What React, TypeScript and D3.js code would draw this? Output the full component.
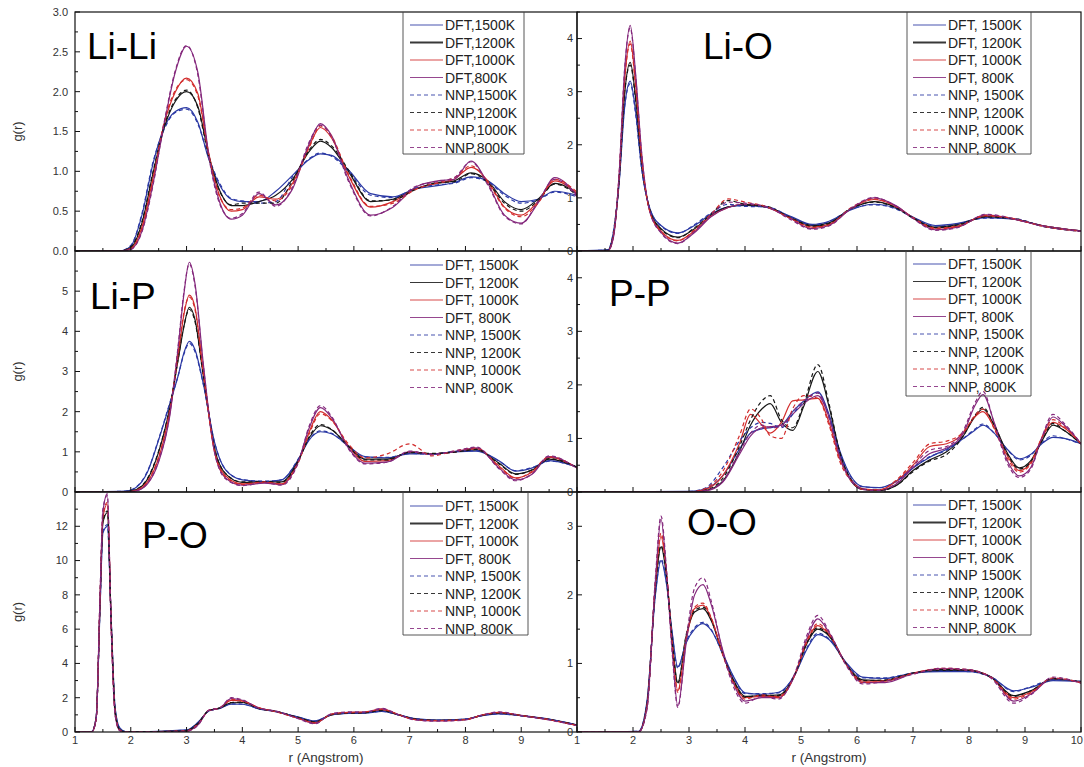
import React from "react";
import * as d3 from "d3";

// ---------- data ----------
const temps = ["1500K", "1200K", "1000K", "800K"];
const tempColors = ["#2a38a4", "#161616", "#d22c2c", "#84287c"];

// Li-Li
const liLiR = [1, 1.8, 2.0, 2.2, 2.4, 2.6, 2.8, 3.0, 3.2, 3.4, 3.6, 3.8, 4.0, 4.3, 4.6, 4.9, 5.2, 5.4, 5.6, 5.9, 6.3, 6.7, 7.1, 7.5, 7.8, 8.1, 8.4, 8.7, 9.0, 9.3, 9.6, 10];
const liLiDft1500 = [0, 0, 0.06, 0.45, 1.1, 1.55, 1.75, 1.8, 1.62, 1.15, 0.82, 0.65, 0.62, 0.62, 0.75, 0.95, 1.15, 1.22, 1.2, 1.02, 0.72, 0.68, 0.78, 0.82, 0.86, 0.93, 0.88, 0.72, 0.62, 0.65, 0.75, 0.7];
const liLiDft1200 = [0, 0, 0.04, 0.35, 0.98, 1.55, 1.88, 2.0, 1.82, 1.2, 0.75, 0.57, 0.57, 0.62, 0.7, 0.9, 1.25, 1.38, 1.3, 1.0, 0.62, 0.65, 0.78, 0.85, 0.88, 0.98, 0.88, 0.62, 0.52, 0.65, 0.85, 0.72];
const liLiDft1000 = [0, 0, 0.03, 0.3, 0.92, 1.6, 2.0, 2.17, 1.98, 1.22, 0.68, 0.5, 0.52, 0.68, 0.65, 0.85, 1.32, 1.55, 1.42, 0.95, 0.55, 0.62, 0.78, 0.85, 0.9, 1.05, 0.88, 0.55, 0.45, 0.62, 0.88, 0.72];
const liLiDft800 = [0, 0, 0.02, 0.25, 0.85, 1.6, 2.25, 2.57, 2.25, 1.2, 0.6, 0.4, 0.45, 0.72, 0.58, 0.78, 1.35, 1.6, 1.45, 0.9, 0.45, 0.55, 0.8, 0.88, 0.9, 1.13, 0.85, 0.45, 0.35, 0.6, 0.92, 0.7];
const liLiNnp1500 = [0, 0, 0.07, 0.47, 1.12, 1.53, 1.74, 1.78, 1.6, 1.17, 0.84, 0.66, 0.63, 0.6, 0.62, 0.93, 1.16, 1.23, 1.19, 1.0, 0.7, 0.67, 0.79, 0.83, 0.85, 0.92, 0.87, 0.7, 0.6, 0.64, 0.74, 0.68];
const liLiNnp1200 = [0, 0, 0.05, 0.37, 1.0, 1.57, 1.9, 2.02, 1.8, 1.18, 0.74, 0.58, 0.6, 0.6, 0.6, 0.88, 1.27, 1.4, 1.32, 1.02, 0.63, 0.64, 0.77, 0.86, 0.87, 0.97, 0.86, 0.6, 0.5, 0.63, 0.84, 0.7];
const liLiNnp1000 = [0, 0, 0.03, 0.28, 0.9, 1.62, 2.02, 2.15, 1.95, 1.2, 0.67, 0.52, 0.54, 0.7, 0.63, 0.83, 1.3, 1.57, 1.44, 0.97, 0.56, 0.6, 0.77, 0.86, 0.92, 1.07, 0.86, 0.54, 0.43, 0.6, 0.9, 0.74];
const liLiNnp800 = [0, 0, 0.02, 0.24, 0.83, 1.62, 2.27, 2.58, 2.22, 1.18, 0.58, 0.41, 0.47, 0.74, 0.56, 0.8, 1.37, 1.58, 1.43, 0.88, 0.44, 0.56, 0.81, 0.87, 0.92, 1.12, 0.83, 0.44, 0.34, 0.62, 0.9, 0.68];

// Li-O
const liOR = [1, 1.55, 1.65, 1.75, 1.85, 1.95, 2.05, 2.15, 2.3, 2.5, 2.8, 3.1, 3.4, 3.7, 4.0, 4.4, 4.8, 5.2, 5.5, 5.9, 6.3, 6.7, 7.0, 7.4, 7.8, 8.3, 8.8, 9.3, 10];
const liODft1500 = [0, 0.02, 0.35, 1.25, 2.7, 3.2, 2.6, 1.6, 0.8, 0.48, 0.34, 0.48, 0.7, 0.83, 0.86, 0.82, 0.66, 0.5, 0.56, 0.78, 0.88, 0.8, 0.64, 0.48, 0.52, 0.63, 0.6, 0.48, 0.38];
const liODft1200 = [0, 0.01, 0.3, 1.3, 2.95, 3.55, 2.85, 1.7, 0.78, 0.42, 0.26, 0.42, 0.68, 0.83, 0.87, 0.82, 0.64, 0.48, 0.53, 0.8, 0.93, 0.82, 0.63, 0.45, 0.5, 0.65, 0.6, 0.48, 0.38];
const liODft1000 = [0, 0, 0.28, 1.35, 3.2, 3.95, 3.1, 1.8, 0.75, 0.38, 0.2, 0.38, 0.66, 0.82, 0.88, 0.82, 0.63, 0.45, 0.5, 0.8, 0.97, 0.84, 0.63, 0.43, 0.47, 0.66, 0.6, 0.48, 0.38];
const liODft800 = [0, 0, 0.25, 1.4, 3.4, 4.25, 3.3, 1.9, 0.75, 0.35, 0.15, 0.35, 0.65, 0.82, 0.88, 0.82, 0.62, 0.42, 0.48, 0.8, 1.0, 0.85, 0.62, 0.4, 0.45, 0.68, 0.6, 0.48, 0.38];
const liONnp1500 = [0, 0.02, 0.37, 1.28, 2.72, 3.15, 2.55, 1.58, 0.8, 0.47, 0.33, 0.5, 0.72, 0.88, 0.84, 0.83, 0.65, 0.49, 0.55, 0.79, 0.87, 0.79, 0.63, 0.47, 0.51, 0.62, 0.61, 0.47, 0.37];
const liONnp1200 = [0, 0.01, 0.32, 1.32, 2.98, 3.5, 2.8, 1.68, 0.77, 0.41, 0.25, 0.44, 0.7, 0.95, 0.88, 0.84, 0.63, 0.47, 0.52, 0.81, 0.92, 0.81, 0.62, 0.44, 0.49, 0.64, 0.61, 0.47, 0.37];
const liONnp1000 = [0, 0, 0.3, 1.38, 3.22, 3.9, 3.05, 1.78, 0.74, 0.37, 0.19, 0.4, 0.7, 0.98, 0.92, 0.83, 0.62, 0.44, 0.49, 0.82, 0.98, 0.83, 0.62, 0.42, 0.46, 0.67, 0.61, 0.47, 0.37];
const liONnp800 = [0, 0, 0.27, 1.42, 3.42, 4.2, 3.25, 1.88, 0.74, 0.34, 0.14, 0.37, 0.68, 0.92, 0.9, 0.83, 0.6, 0.41, 0.47, 0.81, 1.01, 0.84, 0.61, 0.39, 0.44, 0.69, 0.61, 0.47, 0.37];

// Li-P
const liPR = [1, 1.9, 2.1, 2.3, 2.5, 2.7, 2.85, 2.95, 3.05, 3.15, 3.3, 3.5, 3.7, 4.0, 4.4, 4.7, 5.0, 5.2, 5.4, 5.6, 5.9, 6.2, 6.6, 7.0, 7.4, 7.8, 8.2, 8.6, 8.9, 9.2, 9.5, 10];
const liPDft1500 = [0, 0.02, 0.12, 0.5, 1.3, 2.2, 2.9, 3.45, 3.75, 3.55, 2.7, 1.25, 0.55, 0.3, 0.26, 0.3, 0.8, 1.3, 1.5, 1.45, 1.15, 0.88, 0.85, 0.95, 0.95, 1.0, 1.02, 0.78, 0.52, 0.6, 0.78, 0.62];
const liPDft1200 = [0, 0.01, 0.06, 0.32, 1.0, 2.1, 3.3, 4.1, 4.6, 4.3, 2.9, 1.1, 0.45, 0.24, 0.25, 0.25, 0.78, 1.35, 1.65, 1.55, 1.15, 0.82, 0.82, 0.98, 0.95, 1.0, 1.05, 0.72, 0.45, 0.55, 0.82, 0.62];
const liPDft1000 = [0, 0, 0.04, 0.25, 0.85, 2.0, 3.4, 4.4, 4.9, 4.6, 3.0, 1.05, 0.4, 0.2, 0.24, 0.2, 0.75, 1.5, 2.0, 1.8, 1.15, 0.76, 0.78, 1.0, 0.95, 1.0, 1.08, 0.65, 0.35, 0.5, 0.86, 0.6];
const liPDft800 = [0, 0, 0.03, 0.2, 0.75, 1.9, 3.6, 4.9, 5.72, 5.2, 3.2, 1.0, 0.35, 0.17, 0.22, 0.18, 0.75, 1.6, 2.1, 1.85, 1.1, 0.72, 0.75, 1.0, 0.95, 1.0, 1.1, 0.6, 0.3, 0.45, 0.88, 0.6];
const liPNnp1500 = [0, 0.02, 0.13, 0.52, 1.32, 2.22, 2.9, 3.42, 3.7, 3.5, 2.68, 1.24, 0.56, 0.31, 0.27, 0.3, 0.82, 1.32, 1.52, 1.46, 1.14, 0.87, 0.86, 0.96, 0.94, 1.01, 1.03, 0.77, 0.53, 0.61, 0.77, 0.62];
const liPNnp1200 = [0, 0.01, 0.07, 0.34, 1.02, 2.12, 3.32, 4.12, 4.55, 4.25, 2.88, 1.1, 0.46, 0.25, 0.26, 0.24, 0.76, 1.38, 1.68, 1.56, 1.14, 0.8, 0.8, 0.99, 0.96, 0.99, 1.06, 0.7, 0.44, 0.56, 0.83, 0.62];
const liPNnp1000 = [0, 0, 0.05, 0.27, 0.88, 2.05, 3.45, 4.45, 4.85, 4.55, 2.95, 1.02, 0.38, 0.19, 0.25, 0.19, 0.72, 1.45, 1.95, 1.78, 1.2, 0.85, 0.95, 1.2, 0.9, 1.02, 1.1, 0.63, 0.34, 0.52, 0.88, 0.6];
const liPNnp800 = [0, 0, 0.03, 0.22, 0.78, 1.95, 3.65, 4.95, 5.68, 5.15, 3.15, 1.0, 0.33, 0.16, 0.23, 0.17, 0.72, 1.65, 2.15, 1.88, 1.08, 0.7, 0.74, 1.02, 0.93, 1.02, 1.12, 0.58, 0.28, 0.46, 0.9, 0.58];

// P-P
const pPR = [1, 3.0, 3.3, 3.6, 3.9, 4.1, 4.3, 4.45, 4.65, 4.85, 5.05, 5.3, 5.5, 5.7, 5.9, 6.1, 6.4, 6.7, 7.0, 7.3, 7.6, 7.9, 8.1, 8.25, 8.45, 8.7, 8.9, 9.1, 9.3, 9.5, 9.7, 10];
const pPDft1500 = [0, 0.01, 0.06, 0.3, 0.8, 1.1, 1.18, 1.2, 1.25, 1.5, 1.7, 1.87, 1.45, 0.75, 0.28, 0.1, 0.08, 0.2, 0.45, 0.65, 0.8, 1.0, 1.15, 1.25, 1.1, 0.78, 0.62, 0.7, 0.9, 1.02, 1.0, 0.9];
const pPDft1200 = [0, 0, 0.03, 0.2, 0.75, 1.25, 1.55, 1.65, 1.3, 1.15, 1.6, 2.25, 1.6, 0.7, 0.2, 0.05, 0.03, 0.12, 0.4, 0.6, 0.75, 1.05, 1.4, 1.55, 1.25, 0.7, 0.45, 0.58, 0.95, 1.25, 1.15, 0.9];
const pPDft1000 = [0, 0, 0.05, 0.3, 0.9, 1.45, 1.25, 1.1, 1.3, 1.7, 1.72, 1.75, 1.3, 0.6, 0.22, 0.06, 0.04, 0.2, 0.5, 0.85, 0.9, 1.1, 1.4, 1.5, 1.2, 0.65, 0.4, 0.55, 1.0, 1.3, 1.2, 0.9];
const pPDft800 = [0, 0, 0.02, 0.18, 0.7, 1.05, 1.2, 1.22, 1.25, 1.45, 1.65, 1.8, 1.4, 0.65, 0.22, 0.06, 0.03, 0.15, 0.45, 0.72, 0.82, 1.1, 1.6, 1.82, 1.3, 0.55, 0.3, 0.45, 1.0, 1.4, 1.25, 0.9];
const pPNnp1500 = [0, 0.01, 0.08, 0.45, 0.95, 1.2, 1.3, 1.28, 1.2, 1.45, 1.68, 1.85, 1.42, 0.72, 0.27, 0.1, 0.08, 0.2, 0.45, 0.66, 0.78, 1.0, 1.17, 1.27, 1.1, 0.77, 0.6, 0.68, 0.92, 1.05, 1.0, 0.9];
const pPNnp1200 = [0, 0, 0.04, 0.25, 0.85, 1.35, 1.7, 1.8, 1.35, 1.2, 1.65, 2.38, 1.65, 0.72, 0.22, 0.05, 0.03, 0.12, 0.38, 0.58, 0.7, 1.05, 1.42, 1.58, 1.25, 0.68, 0.43, 0.56, 0.95, 1.28, 1.15, 0.9];
const pPNnp1000 = [0, 0, 0.07, 0.38, 1.05, 1.55, 1.35, 1.05, 1.0, 1.55, 1.8, 1.75, 1.25, 0.55, 0.2, 0.05, 0.04, 0.22, 0.55, 0.9, 0.95, 1.12, 1.42, 1.55, 1.18, 0.6, 0.37, 0.52, 1.02, 1.35, 1.22, 0.9];
const pPNnp800 = [0, 0, 0.03, 0.2, 0.75, 1.1, 1.25, 1.2, 1.22, 1.5, 1.7, 1.85, 1.38, 0.62, 0.2, 0.05, 0.03, 0.16, 0.48, 0.78, 0.85, 1.15, 1.65, 1.88, 1.28, 0.5, 0.27, 0.42, 1.02, 1.45, 1.28, 0.9];

// P-O
const pOR = [1, 1.3, 1.38, 1.45, 1.5, 1.58, 1.65, 1.72, 1.8, 1.9, 2.0, 3.0, 3.2, 3.4, 3.6, 3.8, 4.0, 4.3, 4.6, 5.0, 5.3, 5.6, 5.9, 6.2, 6.5, 6.8, 7.1, 7.5, 8.0, 8.3, 8.6, 9.0, 9.5, 10];
const pODft1500 = [0, 0.02, 0.9, 7.3, 11.6, 12.0, 6.5, 1.4, 0.25, 0.02, 0, 0.12, 0.55, 1.22, 1.38, 1.62, 1.62, 1.35, 1.18, 0.88, 0.65, 1.0, 1.08, 1.1, 1.2, 1.0, 0.78, 0.7, 0.75, 0.95, 1.05, 0.95, 0.75, 0.42];
const pODft1200 = [0, 0, 0.85, 7.6, 12.2, 12.8, 6.3, 1.2, 0.15, 0.01, 0, 0.08, 0.5, 1.25, 1.4, 1.7, 1.72, 1.38, 1.2, 0.85, 0.6, 1.0, 1.1, 1.12, 1.25, 1.0, 0.76, 0.68, 0.74, 0.97, 1.1, 0.95, 0.74, 0.4];
const pODft1000 = [0, 0, 0.8, 7.8, 12.5, 13.3, 6.2, 1.1, 0.12, 0, 0, 0.06, 0.45, 1.25, 1.4, 1.85, 1.8, 1.4, 1.2, 0.82, 0.55, 1.02, 1.12, 1.15, 1.3, 1.0, 0.74, 0.67, 0.73, 0.98, 1.12, 0.95, 0.73, 0.39];
const pODft800 = [0, 0, 0.8, 8.0, 12.8, 13.9, 6.0, 1.0, 0.1, 0, 0, 0.05, 0.4, 1.25, 1.4, 1.95, 1.85, 1.4, 1.2, 0.8, 0.5, 1.05, 1.15, 1.15, 1.35, 1.0, 0.72, 0.65, 0.72, 0.98, 1.15, 0.95, 0.72, 0.38];
const pONnp1500 = [0, 0.02, 0.88, 7.4, 11.7, 12.1, 6.45, 1.35, 0.23, 0.02, 0, 0.11, 0.53, 1.23, 1.39, 1.64, 1.63, 1.34, 1.19, 0.87, 0.63, 1.01, 1.09, 1.11, 1.21, 1.0, 0.77, 0.69, 0.76, 0.96, 1.06, 0.94, 0.74, 0.41];
const pONnp1200 = [0, 0, 0.82, 7.7, 12.3, 12.9, 6.25, 1.15, 0.14, 0.01, 0, 0.07, 0.48, 1.26, 1.41, 1.72, 1.74, 1.36, 1.21, 0.84, 0.58, 1.02, 1.11, 1.13, 1.27, 1.01, 0.75, 0.67, 0.73, 0.98, 1.11, 0.96, 0.73, 0.4];
const pONnp1000 = [0, 0, 0.78, 7.9, 12.6, 13.4, 6.1, 1.05, 0.1, 0, 0, 0.05, 0.42, 1.27, 1.42, 1.9, 1.82, 1.42, 1.18, 0.8, 0.53, 1.04, 1.14, 1.17, 1.33, 1.02, 0.72, 0.66, 0.72, 0.99, 1.14, 0.96, 0.72, 0.38];
const pONnp800 = [0, 0, 0.75, 8.2, 13.0, 13.8, 5.8, 0.95, 0.08, 0, 0, 0.04, 0.38, 1.28, 1.42, 2.0, 1.88, 1.38, 1.22, 0.78, 0.48, 1.07, 1.17, 1.17, 1.38, 1.02, 0.7, 0.63, 0.7, 1.0, 1.17, 0.97, 0.7, 0.37];

// O-O
const oOR = [1, 2.1, 2.25, 2.4, 2.5, 2.6, 2.7, 2.8, 2.95, 3.1, 3.25, 3.4, 3.6, 3.8, 4.0, 4.3, 4.6, 4.9, 5.1, 5.3, 5.5, 5.8, 6.1, 6.5, 7.0, 7.5, 8.0, 8.4, 8.8, 9.1, 9.5, 10];
const oODft1500 = [0, 0.01, 0.45, 2.0, 2.5, 2.15, 1.45, 0.95, 1.3, 1.5, 1.58, 1.48, 1.15, 0.8, 0.57, 0.55, 0.58, 0.85, 1.2, 1.42, 1.35, 1.02, 0.8, 0.78, 0.86, 0.88, 0.88, 0.8, 0.6, 0.65, 0.75, 0.74];
const oODft1200 = [0, 0, 0.4, 2.1, 2.7, 2.25, 1.35, 0.72, 1.4, 1.75, 1.8, 1.62, 1.15, 0.75, 0.52, 0.53, 0.54, 0.85, 1.28, 1.5, 1.4, 1.0, 0.76, 0.75, 0.86, 0.9, 0.9, 0.8, 0.53, 0.6, 0.77, 0.73];
const oODft1000 = [0, 0, 0.38, 2.15, 2.85, 2.3, 1.3, 0.6, 1.35, 1.8, 1.85, 1.65, 1.15, 0.72, 0.5, 0.52, 0.52, 0.85, 1.3, 1.55, 1.42, 1.0, 0.74, 0.74, 0.86, 0.92, 0.9, 0.8, 0.5, 0.58, 0.78, 0.72];
const oODft800 = [0, 0, 0.35, 2.2, 3.1, 2.3, 1.2, 0.38, 1.3, 2.0, 2.15, 1.85, 1.2, 0.7, 0.45, 0.5, 0.5, 0.85, 1.35, 1.65, 1.45, 1.0, 0.72, 0.72, 0.85, 0.92, 0.9, 0.8, 0.45, 0.55, 0.78, 0.72];
const oONnp1500 = [0, 0.01, 0.44, 2.02, 2.52, 2.17, 1.43, 0.93, 1.32, 1.52, 1.6, 1.49, 1.14, 0.79, 0.56, 0.56, 0.57, 0.86, 1.22, 1.44, 1.36, 1.01, 0.79, 0.79, 0.86, 0.89, 0.88, 0.8, 0.59, 0.66, 0.76, 0.74];
const oONnp1200 = [0, 0, 0.39, 2.12, 2.72, 2.27, 1.33, 0.7, 1.42, 1.77, 1.82, 1.63, 1.14, 0.74, 0.51, 0.54, 0.53, 0.86, 1.29, 1.52, 1.41, 1.0, 0.75, 0.76, 0.86, 0.91, 0.9, 0.79, 0.52, 0.6, 0.78, 0.73];
const oONnp1000 = [0, 0, 0.37, 2.18, 2.9, 2.32, 1.28, 0.58, 1.38, 1.82, 1.88, 1.66, 1.13, 0.7, 0.48, 0.54, 0.5, 0.86, 1.32, 1.58, 1.43, 0.99, 0.72, 0.75, 0.85, 0.93, 0.91, 0.79, 0.48, 0.57, 0.79, 0.72];
const oONnp800 = [0, 0, 0.33, 2.25, 3.15, 2.35, 1.15, 0.36, 1.35, 2.1, 2.25, 1.9, 1.18, 0.65, 0.42, 0.52, 0.48, 0.88, 1.4, 1.7, 1.47, 0.98, 0.7, 0.74, 0.84, 0.93, 0.91, 0.78, 0.42, 0.54, 0.8, 0.71];

// ticks
const xTicksLeft = [1, 2, 3, 4, 5, 6, 7, 8, 9];
const xTicksRight = [1, 2, 3, 4, 5, 6, 7, 8, 9, 10];
const liLiYTicks = [0, 0.5, 1.0, 1.5, 2.0, 2.5, 3.0];
const liOYTicks = [0, 1, 2, 3, 4];
const liPYTicks = [0, 1, 2, 3, 4, 5];
const pPYTicks = [0, 1, 2, 3, 4];
const pOYTicks = [0, 2, 4, 6, 8, 10, 12];
const oOYTicks = [0, 1, 2, 3];

// legends
const legendNoSpace = ["DFT,1500K", "DFT,1200K", "DFT,1000K", "DFT,800K", "NNP,1500K", "NNP,1200K", "NNP,1000K", "NNP,800K"];
const legendStd = ["DFT, 1500K", "DFT, 1200K", "DFT, 1000K", "DFT, 800K", "NNP, 1500K", "NNP, 1200K", "NNP, 1000K", "NNP, 800K"];
const legendOO = ["DFT, 1500K", "DFT, 1200K", "DFT, 1000K", "DFT, 800K", "NNP 1500K", "NNP, 1200K", "NNP, 1000K", "NNP, 800K"];

const panels = [
  { title: "Li-Li", r: liLiR, dft: [liLiDft1500, liLiDft1200, liLiDft1000, liLiDft800], nnp: [liLiNnp1500, liLiNnp1200, liLiNnp1000, liLiNnp800], yMax: 3, yTicks: liLiYTicks, yMinor: 0.25, fmt: ".1f", legend: legendNoSpace, thick: true },
  { title: "Li-O", r: liOR, dft: [liODft1500, liODft1200, liODft1000, liODft800], nnp: [liONnp1500, liONnp1200, liONnp1000, liONnp800], yMax: 4.5, yTicks: liOYTicks, yMinor: 0.5, fmt: "d", legend: legendStd, thick: true },
  { title: "Li-P", r: liPR, dft: [liPDft1500, liPDft1200, liPDft1000, liPDft800], nnp: [liPNnp1500, liPNnp1200, liPNnp1000, liPNnp800], yMax: 6, yTicks: liPYTicks, yMinor: 0.5, fmt: "d", legend: legendStd, thick: false },
  { title: "P-P", r: pPR, dft: [pPDft1500, pPDft1200, pPDft1000, pPDft800], nnp: [pPNnp1500, pPNnp1200, pPNnp1000, pPNnp800], yMax: 4.5, yTicks: pPYTicks, yMinor: 0.5, fmt: "d", legend: legendStd, thick: false },
  { title: "P-O", r: pOR, dft: [pODft1500, pODft1200, pODft1000, pODft800], nnp: [pONnp1500, pONnp1200, pONnp1000, pONnp800], yMax: 14, yTicks: pOYTicks, yMinor: 1, fmt: "d", legend: legendStd, thick: true },
  { title: "O-O", r: oOR, dft: [oODft1500, oODft1200, oODft1000, oODft800], nnp: [oONnp1500, oONnp1200, oONnp1000, oONnp800], yMax: 3.5, yTicks: oOYTicks, yMinor: 0.5, fmt: "d", legend: legendOO, thick: true },
];

// ---------- layout ----------
const colX = [[75, 577], [577, 1081]];
const rowY = [[12, 251], [251, 492], [492, 732]];
const layouts = [
  { col: 0, row: 0, titleX: 87, titleY: 59, legX: 410, legY: 25, box: [403, 524, 154] },
  { col: 1, row: 0, titleX: 703, titleY: 59, legX: 913, legY: 25, box: [907, 1031, 154] },
  { col: 0, row: 1, titleX: 90, titleY: 309, legX: 410, legY: 265, box: null },
  { col: 1, row: 1, titleX: 609, titleY: 306, legX: 913, legY: 264, box: [906, 1031, 396] },
  { col: 0, row: 2, titleX: 142, titleY: 548, legX: 410, legY: 506, box: [403, 528, 635] },
  { col: 1, row: 2, titleX: 687, titleY: 535, legX: 913, legY: 505, box: [907, 1031, 635] },
];

const FONT = "'Liberation Sans', Arial, Helvetica, sans-serif";

function Panel({ cfg, lay, idx }: any) {
  const [x0, x1] = colX[lay.col];
  const [y0, y1] = rowY[lay.row];
  const x = d3.scaleLinear().domain([1, 10]).range([x0, x1]);
  const y = d3.scaleLinear().domain([0, cfg.yMax]).range([y1, y0]);
  const line = (vals: number[]) =>
    d3.line<number>().x((_, i) => x(cfg.r[i])).y((d) => y(d)).curve(d3.curveMonotoneX)(vals) || "";
  const xTicks = lay.col === 0 ? xTicksLeft : xTicksRight;
  const xMinor = d3.range(1.5, 10, 1);
  const yMinor = d3.range(0, cfg.yMax + 1e-9, cfg.yMinor).filter((v) => !cfg.yTicks.some((t: number) => Math.abs(t - v) < 1e-9));
  const fmt = cfg.fmt === "d" ? d3.format("d") : d3.format(".1f");
  const clipId = `clip${idx}`;
  const showXLabels = lay.row === 2;
  return (
    <g>
      <defs>
        <clipPath id={clipId}>
          <rect x={x0} y={y0} width={x1 - x0} height={y1 - y0} />
        </clipPath>
      </defs>
      <g clipPath={`url(#${clipId})`}>
        {cfg.dft.map((vals: number[], i: number) => (
          <path key={`d${i}`} d={line(vals)} fill="none" stroke={tempColors[i]} strokeWidth={1.2} />
        ))}
        {cfg.nnp.map((vals: number[], i: number) => (
          <path key={`n${i}`} d={line(vals)} fill="none" stroke={tempColors[i]} strokeWidth={1.2} strokeDasharray="4,3" />
        ))}
      </g>
      {/* frame */}
      <rect x={x0} y={y0} width={x1 - x0} height={y1 - y0} fill="none" stroke="#111" strokeWidth={1.2} />
      {/* x ticks */}
      {xTicks.map((t) => (
        <line key={`xt${t}`} x1={x(t)} x2={x(t)} y1={y1} y2={y1 - 5} stroke="#111" strokeWidth={1} />
      ))}
      {xMinor.map((t) => (
        <line key={`xm${t}`} x1={x(t)} x2={x(t)} y1={y1} y2={y1 - 3} stroke="#111" strokeWidth={1} />
      ))}
      {showXLabels &&
        xTicks.map((t) => (
          <text
            key={`xl${t}`}
            x={t === 10 ? 1083 : x(t)}
            y={y1 + 12}
            textAnchor={t === 10 ? "end" : "middle"}
            fontSize={11}
            fill="#333"
            fontFamily={FONT}
          >
            {t}
          </text>
        ))}
      {/* y ticks */}
      {cfg.yTicks.map((t: number) => (
        <g key={`yt${t}`}>
          <line x1={x0} x2={x0 + 5} y1={y(t)} y2={y(t)} stroke="#111" strokeWidth={1} />
          <text x={lay.col === 0 ? x0 - 7 : x0 - 4} y={y(t)} dy="0.35em" textAnchor="end" fontSize={11} fill="#333" fontFamily={FONT}>
            {fmt(t)}
          </text>
        </g>
      ))}
      {yMinor.map((t: number) => (
        <line key={`ym${t}`} x1={x0} x2={x0 + 3} y1={y(t)} y2={y(t)} stroke="#111" strokeWidth={1} />
      ))}
      {/* title */}
      <text x={lay.titleX} y={lay.titleY} fontSize={37} fill="#000" fontFamily={FONT}>
        {cfg.title}
      </text>
      {/* legend */}
      {lay.box && (
        <path
          d={`M${lay.box[0]},${y0} V${lay.box[2]} H${lay.box[1]} V${y0}`}
          fill="none"
          stroke="#444"
          strokeWidth={0.9}
        />
      )}
      {cfg.legend.map((lab: string, i: number) => {
        const ly = lay.legY + i * 17.5;
        const ti = i % 4;
        const dashed = i >= 4;
        return (
          <g key={`lg${i}`}>
            <line
              x1={lay.legX}
              x2={lay.legX + 33}
              y1={ly}
              y2={ly}
              stroke={tempColors[ti]}
              strokeWidth={!dashed && ti === 1 && cfg.thick ? 2.2 : 1.1}
              strokeDasharray={dashed ? "4,3" : undefined}
              opacity={0.85}
            />
            <text x={lay.legX + 35} y={ly} dy="0.36em" fontSize={14} fill="#222" fontFamily={FONT}>
              {lab}
            </text>
          </g>
        );
      })}
      {/* axis labels */}
      {lay.col === 0 && (
        <text
          transform={`translate(22,${(y0 + y1) / 2}) rotate(-90)`}
          textAnchor="middle"
          fontSize={13}
          fill="#333"
          fontFamily={FONT}
        >
          g(r)
        </text>
      )}
      {showXLabels && (
        <text x={(x0 + x1) / 2} y={y1 + 30} textAnchor="middle" fontSize={13.5} fill="#333" fontFamily={FONT}>
          r (Angstrom)
        </text>
      )}
    </g>
  );
}

export default function App() {
  return (
    <svg
      width={1084}
      height={767}
      viewBox="0 0 1084 767"
      style={{ position: "absolute", left: 0, top: 0, background: "#fff" }}
    >
      <rect x={0} y={0} width={1084} height={767} fill="#fff" />
      {panels.map((cfg, i) => (
        <Panel key={cfg.title} cfg={cfg} lay={layouts[i]} idx={i} />
      ))}
    </svg>
  );
}
